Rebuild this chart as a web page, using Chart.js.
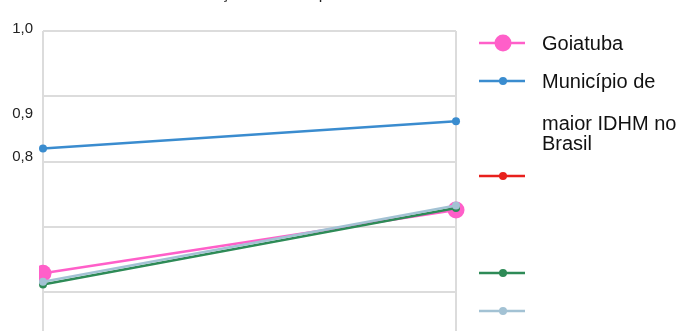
<!DOCTYPE html>
<html lang="pt">
<head>
<meta charset="utf-8">
<script src="https://cdn.jsdelivr.net/npm/chart.js@4/dist/chart.umd.min.js"></script>
<style>
  html, body { margin: 0; padding: 0; background: #ffffff; overflow: hidden; }
  #wrap { width: 682px; height: 331px; position: relative; overflow: hidden; }
  #grafico { display: block; }
</style>
</head>
<body>
<div id="wrap"><canvas id="grafico" width="682" height="340"></canvas></div>
<script>
// Anos comparados (eixo X)
const anos = ['2000', '2010'];

// Séries do IDHM
const goiatuba = [0.629, 0.726];
const maiorIdhm = [0.820, 0.862];
const serieVermelha = [null, null];
const serieVerde = [0.612, 0.729];
const serieAzulClara = [0.616, 0.733];

// Rótulos do eixo Y
const rotulosEixoY = ['1,0', '0,9', '0,8'];
const valoresEixoY = [1.0, 0.9, 0.8];
const linhasGrade = [0.6, 0.7, 0.8, 0.9, 1.0];

const titulo = 'Evolução do IDHM por ano';
const FONTE = "Arial, 'Liberation Sans', sans-serif";

const cores = {
  rosa: '#ff5fc9',
  azul: '#3a8ccf',
  vermelho: '#e8201c',
  verde: '#2e8b57',
  azulClaro: '#a3c2d4',
  grade: '#dcdcdc'
};

// Legenda desenhada à direita do gráfico
const itensLegenda = [
  { cor: cores.rosa, raio: 8.5, y: 43, linhas: [{ texto: 'Goiatuba', y: 43 }] },
  { cor: cores.azul, raio: 4, y: 81, linhas: [
      { texto: 'Município de', y: 81 },
      { texto: 'maior IDHM no', y: 123 },
      { texto: 'Brasil', y: 143 } ] },
  { cor: cores.vermelho, raio: 4, y: 176, linhas: [] },
  { cor: cores.verde, raio: 4, y: 273, linhas: [] },
  { cor: cores.azulClaro, raio: 4, y: 311, linhas: [] }
];

const pluginExtras = {
  id: 'extras',
  afterDraw(chart) {
    const ctx = chart.ctx;
    const escalaY = chart.scales.y;
    ctx.save();

    // Título (parcialmente acima da área visível)
    ctx.fillStyle = '#222';
    ctx.font = '16px ' + FONTE;
    ctx.textAlign = 'left';
    ctx.textBaseline = 'alphabetic';
    ctx.fillText(titulo, 181, -1);

    // Rótulos do eixo Y
    const deslocamentos = [-2, 18, -5];
    ctx.font = '15px ' + FONTE;
    ctx.textAlign = 'right';
    ctx.textBaseline = 'middle';
    ctx.fillStyle = '#222';
    rotulosEixoY.forEach((r, i) => {
      ctx.fillText(r, 33, escalaY.getPixelForValue(valoresEixoY[i]) + deslocamentos[i]);
    });

    // Legenda
    const x0 = 479, x1 = 525, xm = 503, xTexto = 542;
    ctx.font = '20px ' + FONTE;
    ctx.textAlign = 'left';
    ctx.textBaseline = 'middle';
    itensLegenda.forEach(item => {
      ctx.strokeStyle = item.cor;
      ctx.lineWidth = 2.5;
      ctx.beginPath();
      ctx.moveTo(x0, item.y);
      ctx.lineTo(x1, item.y);
      ctx.stroke();
      ctx.fillStyle = item.cor;
      ctx.beginPath();
      ctx.arc(xm, item.y, item.raio, 0, Math.PI * 2);
      ctx.fill();
      ctx.fillStyle = '#111';
      item.linhas.forEach(l => ctx.fillText(l.texto, xTexto, l.y + 1));
    });
    ctx.restore();
  }
};

function serie(rotulo, dados, cor, raio, ordem) {
  return {
    label: rotulo,
    data: dados,
    borderColor: cor,
    backgroundColor: cor,
    pointBackgroundColor: cor,
    pointBorderWidth: 0,
    pointRadius: raio,
    pointHoverRadius: raio,
    borderWidth: 2.5,
    tension: 0,
    order: ordem,
    clip: { left: 4, right: 20, top: 20, bottom: 20 }
  };
}

new Chart(document.getElementById('grafico'), {
  type: 'line',
  data: {
    labels: anos,
    datasets: [
      serie('Goiatuba', goiatuba, cores.rosa, 8.5, 4),
      serie('Município de maior IDHM no Brasil', maiorIdhm, cores.azul, 4, 3),
      serie('', serieVermelha, cores.vermelho, 4, 2),
      serie('', serieVerde, cores.verde, 4, 1),
      serie('', serieAzulClara, cores.azulClaro, 4, 0)
    ]
  },
  options: {
    responsive: false,
    animation: false,
    devicePixelRatio: 1,
    layout: { padding: { left: 43, right: 226, top: 31, bottom: 0 } },
    plugins: {
      legend: { display: false },
      tooltip: { enabled: false },
      title: { display: false }
    },
    scales: {
      x: {
        offset: false,
        ticks: { display: false, padding: 0 },
        border: { display: false },
        grid: { color: cores.grade, lineWidth: 2, drawTicks: false }
      },
      y: {
        min: 0.54,
        max: 1.0,
        afterBuildTicks(escala) {
          escala.ticks = linhasGrade.map(v => ({ value: v }));
        },
        ticks: { display: false, padding: 0 },
        border: { display: false },
        grid: { color: cores.grade, lineWidth: 2, drawTicks: false }
      }
    }
  },
  plugins: [pluginExtras]
});
</script>
</body>
</html>
